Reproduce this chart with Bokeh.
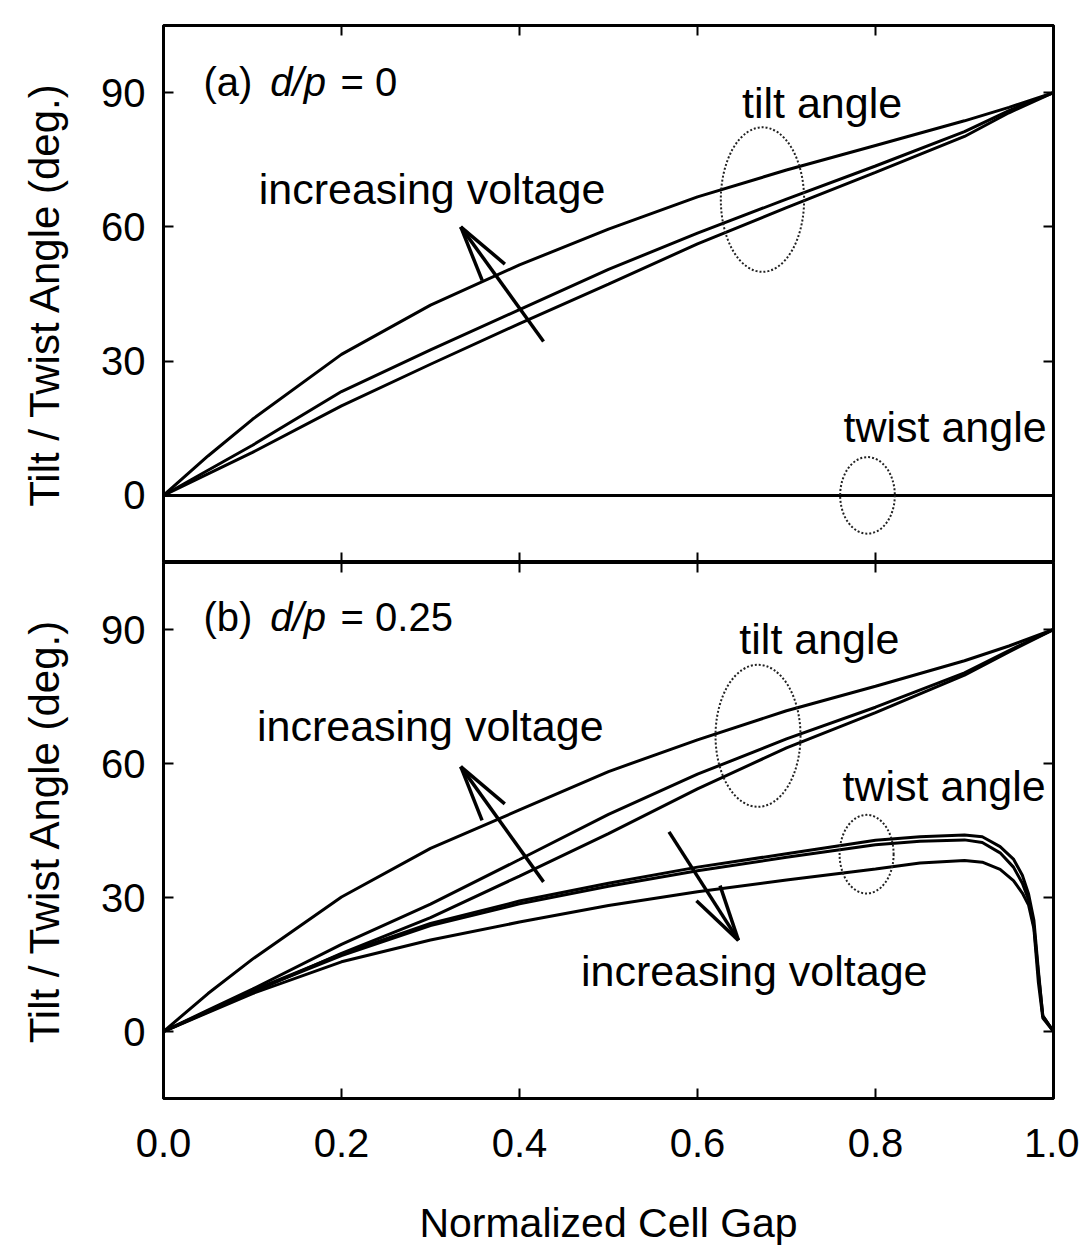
from bokeh.plotting import figure
from bokeh.models import Range1d, FixedTicker, LinearAxis, Label, Arrow, NumeralTickFormatter
from bokeh.layouts import column
from bokeh.embed import file_html
from bokeh.resources import INLINE

# ---------------- data ----------------
x_tilt = [0.0, 0.05, 0.1, 0.2, 0.3, 0.4, 0.5, 0.6, 0.7, 0.8, 0.9, 0.95, 1.0]
tilt_a_high = [0, 8.8, 17.0, 31.5, 42.5, 51.5, 59.5, 66.7, 72.7, 78.2, 83.7, 86.7, 90]
tilt_a_mid = [0, 5.6, 11.2, 23.2, 32.5, 41.5, 50.5, 58.6, 66.2, 73.6, 81.3, 86.0, 90]
tilt_a_low = [0, 4.8, 9.6, 20.0, 29.3, 38.4, 47.2, 56.2, 64.3, 72.2, 80.2, 85.5, 90]

x_twist_a = [0.0, 1.0]
twist_a = [0.0, 0.0]

tilt_b_high = [0, 8.5, 16.2, 30.1, 41.0, 49.6, 58.2, 65.3, 71.8, 77.3, 83.0, 86.3, 90]
tilt_b_mid = [0, 4.8, 9.5, 19.5, 28.5, 38.5, 48.6, 57.6, 65.5, 72.6, 80.3, 85.3, 90]
tilt_b_low = [0, 4.4, 8.8, 17.5, 25.5, 34.8, 44.3, 54.3, 63.5, 71.4, 79.8, 85.0, 90]

x_twist_b = [0.0, 0.1, 0.2, 0.3, 0.4, 0.5, 0.6, 0.7, 0.8, 0.85, 0.9, 0.92, 0.94,
             0.955, 0.965, 0.972, 0.978, 0.983, 0.988, 1.0]
twist_b_v1 = [0, 9.2, 17.3, 24.2, 29.2, 33.2, 36.8, 39.8, 42.8, 43.6, 44.0, 43.6, 41.4,
              38.6, 35.0, 30.8, 24.9, 13.7, 3.5, 0]
twist_b_v2 = [0, 9.0, 17.0, 23.7, 28.6, 32.5, 36.0, 39.0, 41.8, 42.6, 42.9, 42.3, 40.0,
              36.8, 33.2, 29.5, 23.5, 13.0, 3.5, 0]
twist_b_v3 = [0, 8.5, 15.6, 20.5, 24.5, 28.2, 31.3, 33.9, 36.4, 37.7, 38.3, 37.9, 36.3,
              33.8, 31.0, 28.3, 23.0, 11.0, 3.0, 0]

x_ticks = [0.0, 0.2, 0.4, 0.6, 0.8, 1.0]
y_ticks = [0, 30, 60, 90]

FONT = "Liberation Sans"
FW = 890


def style_axis(ax, ticks, labels=False):
    ax.ticker = FixedTicker(ticks=ticks)
    ax.minor_tick_line_color = None
    ax.major_tick_in = 10
    ax.major_tick_out = 0
    ax.major_tick_line_width = 2
    ax.major_tick_line_color = "black"
    ax.axis_line_width = 3
    ax.axis_line_color = "black"
    ax.major_label_text_color = "black"
    ax.axis_label_text_color = "black"
    if not labels:
        ax.major_label_text_color = None
        ax.major_label_text_font_size = "1px"
        ax.major_label_standoff = 0
        ax.axis_label = None


def make_panel(frame_h, top_border, bottom_labels):
    p = figure(frame_width=FW, frame_height=frame_h,
               x_range=Range1d(0, 1), y_range=Range1d(-15, 105),
               output_backend="svg", toolbar_location=None,
               min_border_left=163, min_border_right=26,
               min_border_top=top_border, min_border_bottom=0)
    p.xgrid.visible = False
    p.ygrid.visible = False
    p.outline_line_color = "black"
    p.outline_line_width = 3
    p.background_fill_color = "white"
    p.border_fill_color = "white"

    # left axis
    ya = p.yaxis[0]
    style_axis(ya, y_ticks, labels=True)
    ya.major_label_text_font = FONT
    ya.major_label_text_font_size = "40px"
    ya.major_label_standoff = 18
    ya.axis_label = "Tilt / Twist Angle (deg.)"
    ya.axis_label_text_font = FONT
    ya.axis_label_text_font_size = "42px"
    ya.axis_label_text_font_style = "normal"
    ya.axis_label_standoff = 30

    # bottom axis
    xa = p.xaxis[0]
    if bottom_labels:
        style_axis(xa, x_ticks, labels=True)
        xa.formatter = NumeralTickFormatter(format="0.0")
        xa.major_label_text_font = FONT
        xa.major_label_text_font_size = "40px"
        xa.major_label_standoff = 30
        xa.axis_label = "Normalized Cell Gap"
        xa.axis_label_text_font = FONT
        xa.axis_label_text_font_size = "41px"
        xa.axis_label_text_font_style = "normal"
        xa.axis_label_standoff = 40
    else:
        style_axis(xa, x_ticks[1:-1])

    top = LinearAxis()
    style_axis(top, x_ticks[1:-1])
    p.add_layout(top, "above")
    right = LinearAxis()
    style_axis(right, y_ticks)
    p.add_layout(right, "right")
    return p


def add_text(p, x, y, text, size="43px", style="normal"):
    p.add_layout(Label(x=x, y=y, text=text, text_font=FONT, text_font_size=size,
                       text_font_style=style, text_color="black",
                       text_align="left", text_baseline="alphabetic"))


def add_arrow(p, tail, tip, sy, head=56, half=14, lw=3.5):
    p.add_layout(Arrow(end=None, x_start=tail[0], y_start=tail[1],
                       x_end=tip[0], y_end=tip[1], line_width=lw, line_color="black"))
    dx = (tip[0] - tail[0]) * FW
    dy = (tip[1] - tail[1]) * sy
    L = (dx * dx + dy * dy) ** 0.5
    ux, uy = dx / L, dy / L
    for s in (1, -1):
        ex = tip[0] + (-head * ux + s * half * (-uy)) / FW
        ey = tip[1] + (-head * uy + s * half * ux) / sy
        p.add_layout(Arrow(end=None, x_start=tip[0], y_start=tip[1],
                           x_end=ex, y_end=ey, line_width=lw, line_color="black"))


def add_ellipse(p, cx, cy, w, h):
    p.ellipse(x=[cx], y=[cy], width=[w], height=[h], fill_color=None,
              line_color="#222222", line_width=2, line_dash="2 2")


# ---------------- panel (a) ----------------
p1 = make_panel(537, 25, False)
SY1 = 537 / 120.0
for v in (tilt_a_high, tilt_a_mid, tilt_a_low):
    p1.line(x_tilt, v, line_color="black", line_width=3)
for _ in range(3):
    p1.line(x_twist_a, twist_a, line_color="black", line_width=3)

add_text(p1, 0.045, 92.3, "(a)", "40px")
add_text(p1, 0.120, 92.3, "d/p", "40px", "italic")
add_text(p1, 0.199, 92.3, "= 0", "40px")
add_text(p1, 0.650, 87.6, "tilt angle")
add_text(p1, 0.107, 68.4, "increasing voltage")
add_text(p1, 0.764, 15.3, "twist angle")
add_ellipse(p1, 0.673, 66.1, 0.0936, 32.3)
add_ellipse(p1, 0.791, 0.0, 0.0614, 17.1)
add_arrow(p1, (0.427, 34.4), (0.334, 60.0), SY1)

# ---------------- panel (b) ----------------
p2 = make_panel(536, 0, True)
SY2 = 536 / 120.0
for v in (tilt_b_high, tilt_b_mid, tilt_b_low):
    p2.line(x_tilt, v, line_color="black", line_width=3)
for v in (twist_b_v1, twist_b_v2, twist_b_v3):
    p2.line(x_twist_b, v, line_color="black", line_width=3)

add_text(p2, 0.045, 92.8, "(b)", "40px")
add_text(p2, 0.120, 92.8, "d/p", "40px", "italic")
add_text(p2, 0.199, 92.8, "= 0.25", "40px")
add_text(p2, 0.647, 87.9, "tilt angle")
add_text(p2, 0.105, 68.5, "increasing voltage")
add_text(p2, 0.763, 55.0, "twist angle")
add_text(p2, 0.469, 13.5, "increasing voltage")
add_ellipse(p2, 0.668, 66.2, 0.0955, 31.8)
add_ellipse(p2, 0.790, 39.7, 0.0607, 17.6)
add_arrow(p2, (0.427, 33.5), (0.334, 59.3), SY2)
add_arrow(p2, (0.568, 44.7), (0.646, 20.4), SY2)

layout = column(p1, p2, spacing=0)
open("out.html", "w").write(file_html(layout, INLINE))
